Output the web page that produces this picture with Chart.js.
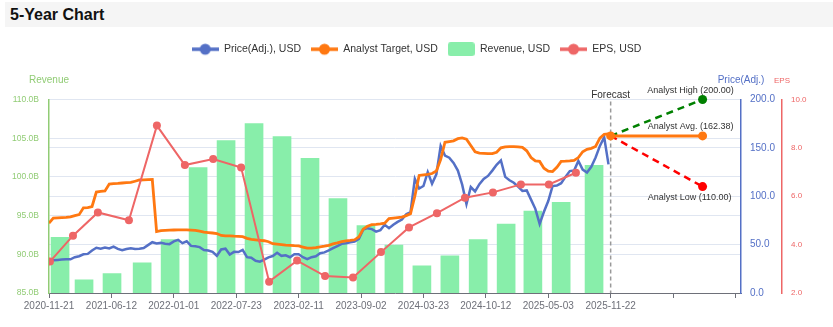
<!DOCTYPE html>
<html>
<head>
<meta charset="utf-8">
<script src="https://cdn.jsdelivr.net/npm/chart.js@4.4.1/dist/chart.umd.min.js"></script>
<style>
  body { margin: 0; background: #fff; font-family: Arial, "Liberation Sans", sans-serif; }
  .title { position: absolute; left: 5px; top: 2px; width: 823px; height: 25px; background: #f5f5f5;
           font-weight: bold; font-size: 16px; line-height: 26px; padding-left: 5px; color: #111; }
  #wrap { position: absolute; left: 0; top: 30px; width: 833px; height: 297px; }
</style>
</head>
<body>
<div class="title">5-Year Chart</div>
<div id="wrap"><canvas id="chart"></canvas></div>
<script>
// price and analyst target, sampled every 14 days from startDate
const startDate = '2020-11-21';
const sampleStepDays = 14;
const priceValues = [
  33.3, 33.8, 34.2, 34.5, 34.8, 34.8, 37, 38, 40, 40.4,
  44, 46.8, 45.8, 47, 46, 48, 45.6, 44.2, 45.5, 46.3,
  45.6, 45.8, 46.5, 49.5, 52.5, 51.3, 51.8, 51, 50.5, 53.4,
  55, 51.5, 53.5, 48.7, 48.3, 47.4, 44.5, 43.9, 42.5, 38.5,
  45, 45.8, 39.8, 42.5, 42.3, 44.6, 37, 36.5, 33.3, 32.4,
  34.5, 36.8, 38.2, 41.5, 38.4, 39, 37, 40, 40, 37,
  35, 37, 38, 41.1, 42, 44, 46.3, 48.5, 50.8, 51.5,
  52.4, 53.2, 56, 65.5, 67, 66, 63.5, 65, 70.5, 67,
  70.5, 73.5, 76, 81.5, 83.5, 118, 108, 110.6, 125, 113,
  122.6, 152, 142, 139.9, 134.5, 126.5, 112, 92, 109.5, 105,
  112.5, 117.8, 121, 126.5, 132.5, 137, 120, 116.5, 114, 110,
  105.5, 106, 96.5, 87, 71.5, 84, 95, 110.5, 111, 113.5,
  120, 126, 126.5, 136.5, 127.5, 124.5, 130.5, 140, 152, 161, 133
];
const targetValues = [
  72.2, 77.5, 77.7, 77.9, 78.1, 78.6, 80, 81, 88, 88.3,
  89.4, 104.3, 105, 105.5, 112.6, 113, 113.3, 113.7, 114, 114.3,
  115.5, 116.8, 117, 117.2, 117.3, 63.5, 64.5, 64.8, 65, 65.1,
  65.2, 65.3, 65.3, 65, 64.7, 64, 63, 62.5, 62, 61.5,
  59.5, 59.1, 59, 58.7, 58.5, 58.3, 56.5, 55.5, 55, 54.5,
  54, 53, 51, 50.5, 50, 49.5, 49.2, 48.9, 48.7, 47.5,
  46.3, 46.4, 46.8, 47.7, 48.4, 49.3, 50.8, 51.8, 53, 53.8,
  54.3, 55, 58, 66, 69, 70.6, 71, 71.5, 72.2, 77,
  77.5, 78, 78.5, 80, 82, 100, 121.5, 122, 122.5, 123.5,
  126, 138, 155.8, 156.5, 157.3, 159.5, 160.3, 159, 152.5, 146,
  144.5, 144.3, 144, 144, 145.5, 150, 151, 151.2, 151.3, 151,
  150.5, 147, 140, 136.5, 136, 129, 126, 125.5, 130, 136,
  136.2, 136.5, 137, 140, 146, 148.5, 149.5, 151.5, 160, 164, 164.5
];

// quarterly revenue (billions)
const revenueDates = [
  '2020-12-27', '2021-03-15', '2021-06-14', '2021-09-20', '2021-12-20',
  '2022-03-21', '2022-06-20', '2022-09-19', '2022-12-19', '2023-03-20',
  '2023-06-19', '2023-09-18', '2023-12-18', '2024-03-18', '2024-06-17',
  '2024-09-17', '2024-12-17', '2025-03-14', '2025-06-14', '2025-09-29'
];
const revenueValues = [
  92.2, 86.7, 87.5, 88.9, 91.9, 101.2, 104.7, 106.9, 105.2, 102.4,
  97.2, 93.7, 91.2, 88.5, 89.8, 91.9, 93.9, 95.6, 96.7, 101.5
];

// quarterly EPS
const epsDates = [
  '2020-11-24', '2021-02-07', '2021-04-29', '2021-08-08', '2021-11-07',
  '2022-02-06', '2022-05-09', '2022-08-08', '2022-11-07', '2023-02-06',
  '2023-05-08', '2023-08-07', '2023-11-06', '2024-02-05', '2024-05-06',
  '2024-08-05', '2024-11-04', '2025-02-03', '2025-05-05', '2025-08-01'
];
const epsValues = [
  3.30, 4.37, 5.33, 5.01, 8.92, 7.29, 7.54, 7.19, 2.47, 3.34,
  2.70, 2.64, 3.69, 4.71, 5.30, 5.94, 6.16, 6.49, 6.49, 6.97
];

const forecastDate = '2025-11-22';
const forecastEndDate = '2026-09-17';
const axisEndDate = '2027-01-20';
const tickStepDays = 203;
const analystAvg = 162.38;
const analystHigh = 200.00;
const analystLow = 110.00;

const DAY = 86400000;
const t0 = Date.parse(startDate);
const toDay = d => (Date.parse(d) - t0) / DAY;
const fmtDay = v => new Date(t0 + v * DAY).toISOString().slice(0, 10);

const BLUE = '#5470c6', ORANGE = '#ff7811', GREEN_BAR = '#88eeaa', RED = '#ee6666', REV_AXIS = '#91cc75';

Chart.defaults.font.family = 'Arial, "Liberation Sans", sans-serif';

function lineIcon(color) {
  const c = document.createElement('canvas');
  c.width = 27; c.height = 14;
  const g = c.getContext('2d');
  g.strokeStyle = color; g.lineWidth = 3.5;
  g.beginPath(); g.moveTo(0, 7); g.lineTo(27, 7); g.stroke();
  g.fillStyle = color;
  g.beginPath(); g.arc(13.5, 7, 5.5, 0, Math.PI * 2); g.fill();
  return c;
}
function boxIcon(color) {
  const c = document.createElement('canvas');
  c.width = 27; c.height = 14;
  const g = c.getContext('2d');
  g.fillStyle = color;
  g.beginPath(); g.roundRect(0, 0, 27, 14, 3); g.fill();
  return c;
}
const legendIcons = [lineIcon(BLUE), lineIcon(ORANGE), boxIcon(GREEN_BAR), lineIcon(RED)];

const fx = toDay(forecastDate), fe = toDay(forecastEndDate), xMax = toDay(axisEndDate);

const legendSpace = {
  id: 'legendSpace',
  beforeInit(chart) {
    const fit = chart.legend.fit;
    chart.legend.fit = function () { fit.call(this); this.height += 35; };
  }
};

const overlay = {
  id: 'overlay',
  beforeDatasetsDraw(chart) {
    const {ctx, chartArea, scales} = chart;
    const x = scales.x.getPixelForValue(fx);
    ctx.save();
    ctx.strokeStyle = '#999'; ctx.lineWidth = 1.5; ctx.setLineDash([4, 3]);
    ctx.beginPath(); ctx.moveTo(x, chartArea.top + 2); ctx.lineTo(x, chartArea.bottom); ctx.stroke();
    ctx.restore();
  },
  afterDatasetsDraw(chart) {
    const {ctx, chartArea, scales} = chart;
    ctx.save();
    ctx.textAlign = 'center'; ctx.textBaseline = 'middle';
    ctx.font = '10px Arial';
    ctx.fillStyle = '#333';
    ctx.fillText('Forecast', scales.x.getPixelForValue(fx), chartArea.top - 4);
    ctx.fillStyle = REV_AXIS;
    ctx.fillText('Revenue', scales.yRev.right, chartArea.top - 19);
    ctx.fillStyle = BLUE;
    ctx.fillText('Price(Adj.)', scales.yPrice.left, chartArea.top - 19);
    ctx.font = '8px Arial';
    ctx.fillStyle = RED;
    ctx.fillText('EPS', scales.yEps.left, chartArea.top - 19);

    const ex = scales.x.getPixelForValue(fe);
    const yp = scales.yPrice;
    ctx.font = '9px Arial';
    ctx.fillStyle = '#333';
    ctx.fillText('Analyst High (' + analystHigh.toFixed(2) + ')', ex - 12, yp.getPixelForValue(analystHigh) - 9);
    ctx.fillText('Analyst Avg. (' + analystAvg.toFixed(2) + ')', ex - 12, yp.getPixelForValue(analystAvg) - 9);
    ctx.fillText('Analyst Low (' + analystLow.toFixed(2) + ')', ex - 13, yp.getPixelForValue(analystLow) + 11);
    ctx.restore();
  }
};

new Chart(document.getElementById('chart'), {
  type: 'line',
  data: {
    datasets: [
      {
        label: 'Price(Adj.), USD',
        data: priceValues.map((y, i) => ({x: i * sampleStepDays, y})),
        yAxisID: 'yPrice',
        borderColor: BLUE, backgroundColor: BLUE,
        borderWidth: 2.5, pointRadius: 0, order: 3
      },
      {
        label: 'Analyst Target, USD',
        data: targetValues.map((y, i) => ({x: i * sampleStepDays, y})),
        yAxisID: 'yPrice',
        borderColor: ORANGE, backgroundColor: ORANGE,
        borderWidth: 2.8, pointRadius: 0, order: 2
      },
      {
        type: 'bar',
        label: 'Revenue, USD',
        data: revenueDates.map((d, i) => ({x: toDay(d), y: revenueValues[i]})),
        yAxisID: 'yRev',
        backgroundColor: GREEN_BAR,
        barThickness: 18, order: 10
      },
      {
        label: 'EPS, USD',
        data: epsDates.map((d, i) => ({x: toDay(d), y: epsValues[i]})),
        yAxisID: 'yEps',
        borderColor: RED, backgroundColor: RED,
        borderWidth: 2, pointRadius: 4, pointBorderWidth: 0, order: 1
      },
      {
        label: 'avg',
        data: [{x: fx, y: analystAvg}, {x: fe, y: analystAvg}],
        yAxisID: 'yPrice',
        borderColor: ORANGE, backgroundColor: ORANGE,
        borderWidth: 3, pointRadius: 4.5, pointBorderWidth: 0, clip: false, order: 0
      },
      {
        label: 'high',
        data: [{x: fx, y: analystAvg}, {x: fe, y: analystHigh}],
        yAxisID: 'yPrice',
        borderColor: '#008000', backgroundColor: '#008000',
        borderWidth: 2.5, borderDash: [7, 5], pointRadius: [0, 4.5], pointBorderWidth: 0, clip: false, order: 0
      },
      {
        label: 'low',
        data: [{x: fx, y: analystAvg}, {x: fe, y: analystLow}],
        yAxisID: 'yPrice',
        borderColor: '#ff0000', backgroundColor: '#ff0000',
        borderWidth: 2.5, borderDash: [7, 5], pointRadius: [0, 4.5], pointBorderWidth: 0, clip: false, order: 0
      }
    ]
  },
  options: {
    responsive: true,
    maintainAspectRatio: false,
    animation: false,
    events: [],
    layout: { padding: { top: 4 } },
    plugins: {
      tooltip: { enabled: false },
      legend: {
        position: 'top',
        labels: {
          color: '#333',
          font: { size: 10.5 },
          usePointStyle: true,
          pointStyleWidth: 27,
          padding: 10,
          sort: (a, b) => a.datasetIndex - b.datasetIndex,
          generateLabels(chart) {
            const items = Chart.defaults.plugins.legend.labels.generateLabels(chart);
            return items.filter(it => it.datasetIndex < 4)
              .map(it => Object.assign(it, { pointStyle: legendIcons[it.datasetIndex] }));
          }
        }
      }
    },
    scales: {
      x: {
        type: 'linear',
        min: 0,
        max: xMax,
        offset: false,
        grid: { display: true, drawOnChartArea: false, drawTicks: true, tickLength: 5, color: '#6e7079', offset: false },
        border: { color: '#6e7079', width: 1 },
        afterBuildTicks: s => {
          const ticks = [];
          for (let v = 0; v <= xMax; v += tickStepDays) ticks.push({ value: v });
          s.ticks = ticks;
        },
        ticks: {
          autoSkip: false,
          maxRotation: 0,
          padding: 2,
          color: '#6e7079',
          font: { size: 10 },
          callback: v => (v <= fx + 0.5 ? fmtDay(v) : '')
        },
        afterFit: s => { s.height = 34; }
      },
      yRev: {
        position: 'left',
        min: 85, max: 110,
        grid: { color: '#e0e6f1', drawTicks: false },
        border: { display: true, color: REV_AXIS, width: 1.5 },
        ticks: { stepSize: 5, padding: 10, color: REV_AXIS, font: { size: 8.5 }, callback: v => v.toFixed(1) + 'B' },
        afterFit: s => { s.width = 49; }
      },
      yPrice: {
        position: 'right',
        weight: 0,
        min: 0, max: 200,
        grid: { color: '#e0e6f1', drawTicks: false },
        border: { display: true, color: BLUE, width: 1.5 },
        ticks: { stepSize: 50, padding: 9, color: BLUE, font: { size: 10 }, callback: v => v.toFixed(1) },
        afterFit: s => { s.width = 41; }
      },
      yEps: {
        position: 'right',
        weight: 1,
        min: 2, max: 10,
        grid: { display: false, drawTicks: false },
        border: { display: true, color: RED, width: 1.5 },
        ticks: { stepSize: 2, padding: 9, color: RED, font: { size: 8 }, callback: v => v.toFixed(1) },
        afterFit: s => { s.width = 51; }
      }
    }
  },
  plugins: [legendSpace, overlay]
});
</script>
</body>
</html>
